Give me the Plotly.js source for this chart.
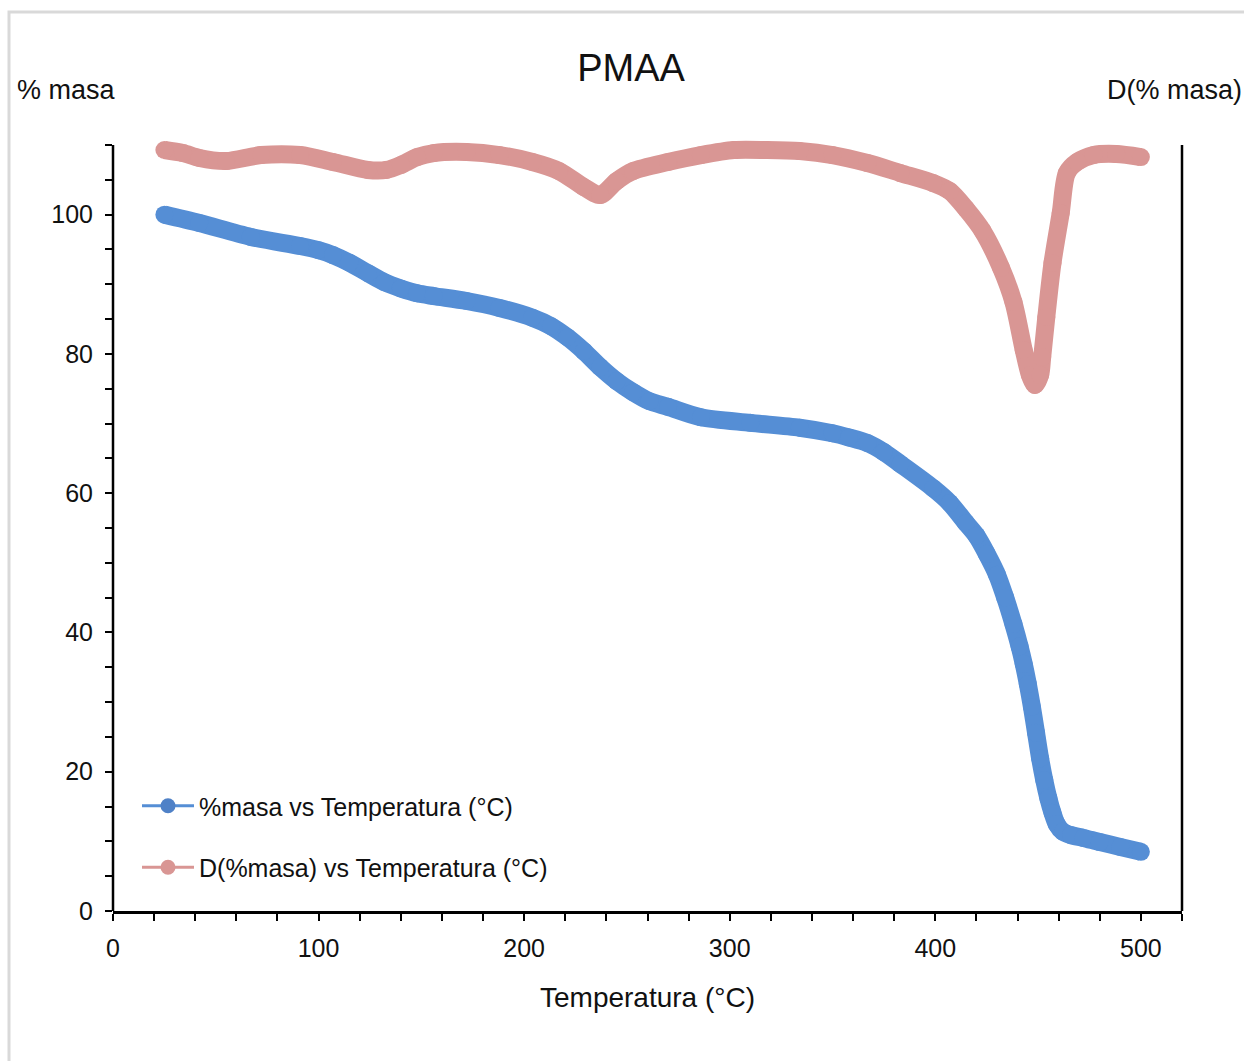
<!DOCTYPE html>
<html><head><meta charset="utf-8">
<script src="https://cdn.plot.ly/plotly-3.0.1.min.js"></script>
<style>html,body{margin:0;padding:0;background:#fff}#chart{width:1244px;height:1061px}</style>
</head><body><div id="chart"></div>
<script>
// %masa vs Temperatura (°C)
const temperatura = [25,42,67,91,100,107,115,124,132,140,148,156,172,188,204,213,221,229,237,245,253,261,270,286,310,334,350,358,367,375,383,399,407,415,420,425,430,434,438,441,443,445,447,449,451,453,455,457,459,462,466,472,480,490,500];
const masa = [100.0,98.8,96.8,95.5,94.9,94.2,93.1,91.6,90.3,89.4,88.7,88.3,87.6,86.6,85.2,84.0,82.4,80.4,78.1,76.1,74.5,73.2,72.4,70.9,70.1,69.4,68.6,68.0,67.2,65.9,64.2,60.7,58.6,55.7,53.9,51.3,48.3,45.0,41.2,38.0,35.5,32.6,29.3,25.6,21.9,18.8,16.2,14.1,12.5,11.4,10.9,10.5,9.9,9.2,8.5];
// D(%masa) vs Temperatura (°C)
const temperaturaD = [25,34,42,55,72,91,107,124,133,140,148,156,172,188,204,217,229,237,245,253,270,286,302,318,334,350,367,383,399,407,415,423,432,438,443,446,448.5,451,452,454,457,461,464,469,477,488,500];
const dMasa = [0,-0.026,-0.068,-0.094,-0.043,-0.043,-0.102,-0.170,-0.170,-0.128,-0.060,-0.026,-0.017,-0.043,-0.102,-0.179,-0.315,-0.383,-0.264,-0.179,-0.102,-0.043,0,0,-0.009,-0.043,-0.111,-0.196,-0.281,-0.349,-0.502,-0.689,-1.004,-1.294,-1.702,-1.915,-2.000,-1.915,-1.762,-1.421,-0.962,-0.536,-0.196,-0.102,-0.043,-0.034,-0.060];

const xTickVals = [0,100,200,300,400,500];
const xTickText = ['0','100','200','300','400','500'];
const yTickVals = [0,20,40,60,80,100];
const yTickText = ['0','20','40','60','80','100'];

const nameMasa = '%masa vs Temperatura (°C)';
const nameD = 'D(%masa) vs Temperatura (°C)';

const FONT = '"Liberation Sans", Arial, sans-serif';
const BLUE = '#558ED5';
const RED = '#D99694';

const traces = [
  {x: temperatura, y: masa, type: 'scatter', mode: 'lines+markers', showlegend: false,
   line: {color: BLUE, width: 18, shape: 'spline', smoothing: 0.8}, marker: {color: BLUE, size: 18},
   hoverinfo: 'x+y'},
  {x: temperaturaD, y: dMasa, yaxis: 'y2', type: 'scatter', mode: 'lines+markers', showlegend: false,
   line: {color: RED, width: 18, shape: 'spline', smoothing: 0.8}, marker: {color: RED, size: 18},
   hoverinfo: 'x+y'},
  {x: [null], y: [null], type: 'scatter', mode: 'lines+markers', name: nameMasa, legendgroup: 'a',
   line: {color: BLUE, width: 3}, marker: {color: '#4F81C7', size: 15}},
  {x: [null], y: [null], yaxis: 'y2', type: 'scatter', mode: 'lines+markers', name: nameD, legendgroup: 'b',
   line: {color: RED, width: 3}, marker: {color: RED, size: 15}}
];

// plot frame (pixels): axes span from y=145 (110 %) to y=911 (0 %)
const L = 113, R = 1182, T = 130, B = 911;
const pxPerUnit = (911 - 145) / 110;
const yTop = (B - T) / pxPerUnit;              // extra room so thick lines are not clipped
const y2Bottom = -6.477, y2PerPx = (0.0426 - y2Bottom) / (911 - 145);
const y2Top = y2Bottom + (B - T) * y2PerPx;
const px = v => (v - L) / (R - L);
const py = v => (B - v) / (B - T);

const axisCommon = {
  showgrid: false, zeroline: false, linecolor: '#000', linewidth: 2.5,
  ticks: 'outside', ticklen: 7, tickwidth: 2, tickcolor: '#000',
  tickfont: {family: FONT, size: 25, color: '#111'}
};

const layout = {
  width: 1244, height: 1061, autosize: false,
  margin: {l: L, r: 1244 - R, t: T, b: 1061 - B},
  paper_bgcolor: '#fff', plot_bgcolor: '#fff',
  font: {family: FONT, color: '#111'},
  title: {text: 'PMAA', font: {family: FONT, size: 38, color: '#111'},
          x: 631 / 1244, xanchor: 'center', xref: 'container', y: 1 - 68 / 1061, yanchor: 'middle'},
  xaxis: Object.assign({}, axisCommon, {
    showline: true,
    range: [0, 520], tickmode: 'array', tickvals: xTickVals, ticktext: xTickText,
    minor: {tickmode: 'linear', tick0: 0, dtick: 20, ticks: 'outside', ticklen: 7, tickwidth: 2, tickcolor: '#000'},
    ticklabelstandoff: 6,
    title: {text: 'Temperatura (°C)', font: {family: FONT, size: 28, color: '#111'}, standoff: 27}
  }),
  yaxis: Object.assign({}, axisCommon, {
    showline: false,
    range: [0, yTop], tickmode: 'array', tickvals: yTickVals, ticktext: yTickText,
    minor: {tickmode: 'linear', tick0: 0, dtick: 5, ticks: 'outside', ticklen: 7, tickwidth: 2, tickcolor: '#000'},
    ticklabelstandoff: 7
  }),
  yaxis2: {
    overlaying: 'y', side: 'right', range: [y2Bottom, y2Top],
    showgrid: false, zeroline: false, showline: false,
    ticks: '', showticklabels: false
  },
  legend: {
    x: px(137), y: py(783), xanchor: 'left', yanchor: 'top',
    bgcolor: 'rgba(0,0,0,0)', font: {family: FONT, size: 25, color: '#111'},
    itemwidth: 52, tracegroupgap: 26, traceorder: 'grouped'
  },
  annotations: [
    {text: '% masa', xref: 'paper', yref: 'paper', x: px(66), y: py(90), xanchor: 'center', yanchor: 'middle',
     showarrow: false, font: {family: FONT, size: 27, color: '#111'}},
    {text: 'D(% masa)', xref: 'paper', yref: 'paper', x: px(1244), y: py(90), xanchor: 'right', yanchor: 'middle',
     showarrow: false, font: {family: FONT, size: 27, color: '#111'}}
  ],
  shapes: [
    {type: 'rect', xref: 'paper', yref: 'paper', x0: px(9), x1: px(1260), y0: py(1075), y1: py(12),
     line: {color: '#d9d9d9', width: 3}, fillcolor: 'rgba(0,0,0,0)', layer: 'below'},
    // left and right vertical axis lines (0 to 110 %)
    {type: 'line', xref: 'paper', yref: 'y', x0: 0, x1: 0, y0: 0, y1: 110,
     line: {color: '#000', width: 2.5}, layer: 'above'},
    {type: 'line', xref: 'paper', yref: 'y', x0: 1, x1: 1, y0: 0, y1: 110,
     line: {color: '#000', width: 2.5}, layer: 'above'}
  ]
};

Plotly.newPlot('chart', traces, layout, {displayModeBar: false, staticPlot: true});
</script>
</body></html>
